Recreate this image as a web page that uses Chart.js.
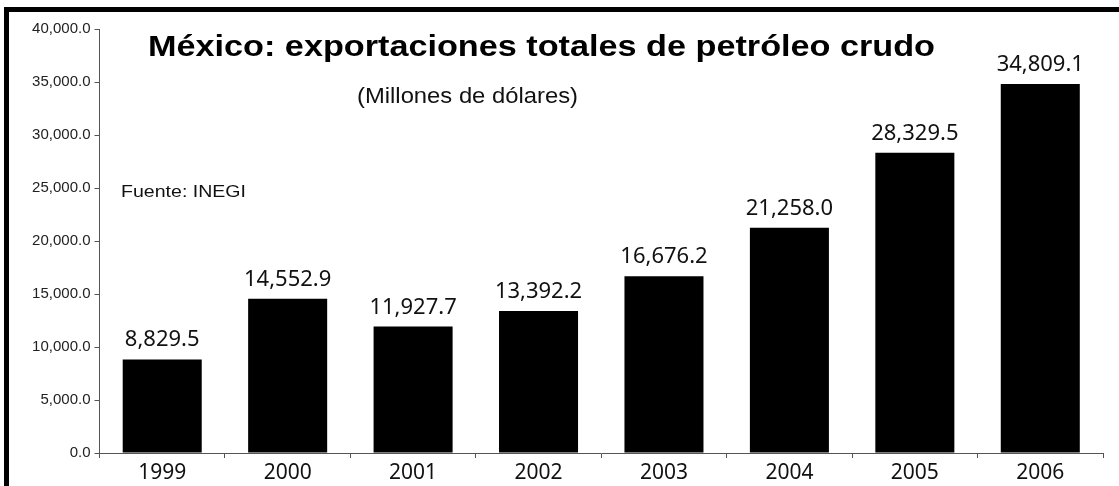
<!DOCTYPE html>
<html>
<head>
<meta charset="utf-8">
<script src="https://cdn.jsdelivr.net/npm/chart.js@4.4.1/dist/chart.umd.min.js"></script>
<style>
  html, body { margin: 0; padding: 0; background: #fff; }
  #wrap { width: 1119px; height: 486px; position: relative; }
</style>
</head>
<body>
<div id="wrap"><canvas id="oilChart" width="1119" height="486"></canvas></div>
<script>
// --- Datos ---
const years = ['1999', '2000', '2001', '2002', '2003', '2004', '2005', '2006'];
const exports = [8829.5, 14552.9, 11927.7, 13392.2, 16676.2, 21258.0, 28329.5, 34809.1];
const yMin = 0;
const yMax = 40000;
const yStep = 5000;

const chartTitle = 'México: exportaciones totales de petróleo crudo';
const chartSubtitle = '(Millones de dólares)';
const sourceNote = 'Fuente: INEGI';

const fmt = v => v.toLocaleString('en-US', { minimumFractionDigits: 1, maximumFractionDigits: 1 });

// texto estirado horizontalmente hasta un ancho dado (la imagen original está algo ensanchada)
function fitText(ctx, text, x, y, font, width) {
    ctx.save();
    ctx.font = font;
    const w = ctx.measureText(text).width;
    ctx.translate(x, y);
    ctx.scale(width / w, 1);
    ctx.textAlign = 'left';
    ctx.textBaseline = 'alphabetic';
    ctx.fillText(text, 0, 0);
    ctx.restore();
}

const decorations = {
    id: 'decorations',
    beforeDraw(chart) {
        const ctx = chart.ctx;
        ctx.save();
        ctx.fillStyle = '#fff';
        ctx.fillRect(0, 0, chart.width, chart.height);
        // marco negro (izquierda y arriba)
        ctx.fillStyle = '#000';
        ctx.fillRect(4, 7, 5, chart.height - 7);
        ctx.fillRect(4, 7, chart.width - 4, 5);
        ctx.restore();
    },
    afterDatasetsDraw(chart) {
        const ctx = chart.ctx;
        ctx.save();
        ctx.fillStyle = '#000';
        fitText(ctx, chartTitle, 148, 56, 'bold 30px "Liberation Sans", Arial, sans-serif', 787);
        ctx.fillStyle = '#111';
        fitText(ctx, chartSubtitle, 357, 103, '22px "Liberation Sans", Arial, sans-serif', 221);
        fitText(ctx, sourceNote, 121, 197, '17px "Liberation Sans", Arial, sans-serif', 125);

        // etiquetas de valores
        const meta = chart.getDatasetMeta(0);
        ctx.font = '22px "Noto Sans", "Open Sans", sans-serif';
        ctx.textAlign = 'center';
        ctx.textBaseline = 'alphabetic';
        ctx.fillStyle = '#111';
        meta.data.forEach((bar, i) => {
            ctx.fillText(fmt(exports[i]), bar.x, bar.y - 13);
        });
        ctx.restore();
    }
};

new Chart(document.getElementById('oilChart'), {
    type: 'bar',
    data: {
        labels: years,
        datasets: [{
            data: exports,
            backgroundColor: '#000',
            borderWidth: 0,
            barPercentage: 0.9,
            categoryPercentage: 0.7
        }]
    },
    options: {
        responsive: false,
        animation: false,
        devicePixelRatio: 1,
        layout: { padding: { top: 29, right: 16, bottom: 0, left: 0 } },
        plugins: {
            legend: { display: false },
            tooltip: { enabled: false },
            title: { display: false }
        },
        scales: {
            x: {
                grid: { drawOnChartArea: false, tickLength: 5, color: '#555', offset: true },
                border: { color: '#555', width: 1 },
                ticks: { color: '#111', padding: 2, font: { family: '"Noto Sans", "Open Sans", sans-serif', size: 21 } },
                afterFit: s => { s.height = 33; }
            },
            y: {
                min: yMin,
                max: yMax,
                grid: { drawOnChartArea: false, tickLength: 5, color: '#555' },
                border: { color: '#555', width: 1 },
                ticks: {
                    stepSize: yStep,
                    color: '#222',
                    padding: 4,
                    font: { family: '"Liberation Sans", Arial, sans-serif', size: 15 },
                    callback: v => fmt(v)
                },
                afterFit: s => { s.width = 99.5; }
            }
        }
    },
    plugins: [decorations]
});
</script>
</body>
</html>
